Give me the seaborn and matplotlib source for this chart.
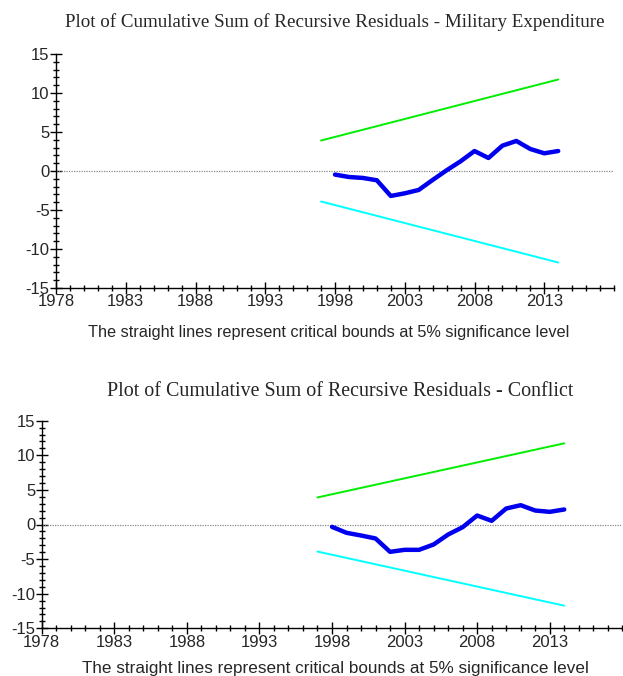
import numpy as np
import pandas as pd
import matplotlib
matplotlib.use("Agg")
import matplotlib.pyplot as plt
import seaborn as sns
from matplotlib.ticker import MultipleLocator

sns.set_style("ticks")
plt.rcParams["font.family"] = ["Liberation Sans", "DejaVu Sans"]
plt.rcParams["axes.unicode_minus"] = False

# CUSUM series
years = list(range(1998, 2015))
cusum_milex = [-0.46, -0.77, -0.89, -1.19, -3.20, -2.86, -2.43, -1.15, 0.09,
               1.24, 2.56, 1.67, 3.25, 3.85, 2.82, 2.27, 2.56]
cusum_conflict = [-0.34, -1.20, -1.59, -2.02, -3.95, -3.66, -3.66, -2.89, -1.45,
                  -0.39, 1.30, 0.53, 2.31, 2.79, 2.02, 1.83, 2.17]

# 5% critical bounds (straight lines)
bound_years = [1997, 2014]
upper_bound = [3.91, 11.73]
lower_bound = [-3.91, -11.73]

titles = ["Plot of Cumulative Sum of Recursive Residuals - Military Expenditure",
          "Plot of Cumulative Sum of Recursive Residuals - Conflict"]
note = "The straight lines represent critical bounds at 5% significance level"
x_ticks = [1978, 1983, 1988, 1993, 1998, 2003, 2008, 2013]
y_ticks = [-15, -10, -5, 0, 5, 10, 15]

W, H = 623, 676
fig = plt.figure(figsize=(W / 100, H / 100), dpi=100)


def px_axes(left, top, right, bottom):
    return fig.add_axes([left / W, 1 - bottom / H, (right - left) / W, (bottom - top) / H])


panels = [
    dict(ax=px_axes(56, 54, 614, 288), series=cusum_milex,
         title_xy=(335, 22), title_size=13.7, note_xy=(329, 333), note_size=11.7),
    dict(ax=px_axes(41.7, 420.7, 622.3, 628.3), series=cusum_conflict,
         title_xy=(340, 392), title_size=14.4, note_xy=(335, 668), note_size=12.3),
]

for p, title in zip(panels, titles):
    ax = p["ax"]
    bounds = pd.DataFrame({"year": bound_years, "upper": upper_bound, "lower": lower_bound})
    cs = pd.DataFrame({"year": years, "cusum": p["series"]})
    ax.axhline(0, color="#888888", lw=0.9, ls=(0, (1, 1)), zorder=1)
    sns.lineplot(data=bounds, x="year", y="upper", ax=ax, color="#00ee00", lw=1.4)
    sns.lineplot(data=bounds, x="year", y="lower", ax=ax, color="#00ffff", lw=1.4)
    sns.lineplot(data=cs, x="year", y="cusum", ax=ax, color="#0000ee", lw=3.2)

    ax.set_xlim(1978, 2018)
    ax.set_ylim(-15, 15)
    ax.set_xticks(x_ticks)
    ax.set_yticks(y_ticks)
    ax.xaxis.set_minor_locator(MultipleLocator(1))
    ax.yaxis.set_minor_locator(MultipleLocator(1))
    ax.tick_params(which="major", direction="inout", length=9, width=1,
                   labelsize=12, pad=0, color="black")
    ax.tick_params(which="minor", direction="inout", length=5, width=1, color="black")
    ax.set_xlabel("")
    ax.set_ylabel("")
    for side in ("top", "right"):
        ax.spines[side].set_visible(False)
    for side in ("left", "bottom"):
        ax.spines[side].set_color("black")
        ax.spines[side].set_linewidth(1)

    tx, ty = p["title_xy"]
    fig.text(tx / W, 1 - ty / H, title, ha="center", va="center",
             family=["Liberation Serif", "DejaVu Serif"], fontsize=p["title_size"])
    nx, ny = p["note_xy"]
    fig.text(nx / W, 1 - ny / H, note, ha="center", va="center", fontsize=p["note_size"])

fig.savefig("out.png", dpi=100)
